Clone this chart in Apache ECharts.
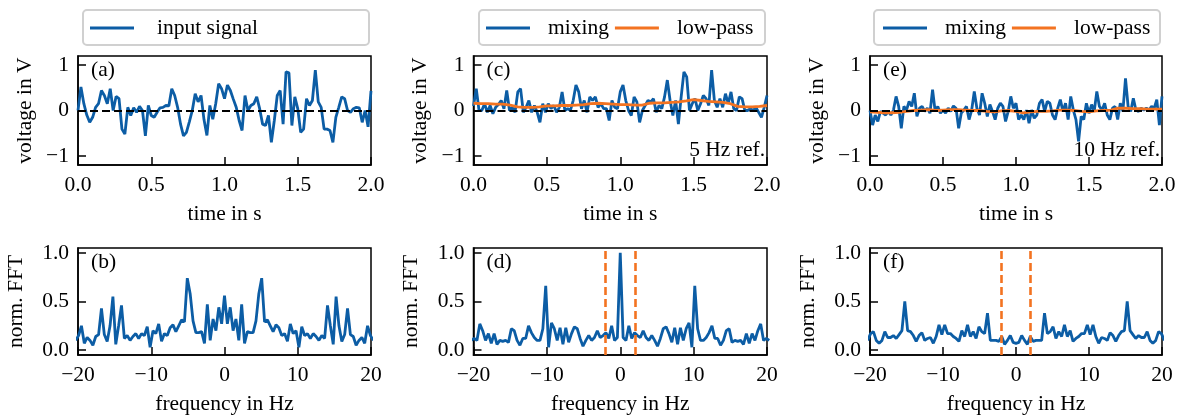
<!DOCTYPE html>
<html>
<head>
<meta charset="utf-8">
<script src="https://cdn.jsdelivr.net/npm/echarts@6/dist/echarts.min.js"></script>
<style>
  html, body { margin: 0; padding: 0; background: #fff; }
  #chart { width: 1185px; height: 416px; }
</style>
</head>
<body>
<div id="chart"></div>
<script>
const inputSignal = [0.0, 0.52, 0.15, -0.1, -0.26, -0.15, 0.07, 0.15, 0.44, 0.33,
  0.15, 0.48, 0.0, 0.31, 0.26, -0.41, -0.52, 0.07, -0.11, 0.06,
  -0.04, 0.09, 0.0, -0.56, 0.11, -0.11, -0.15, -0.04, 0.06, 0.07,
  0.11, 0.1, 0.48, 0.33, 0.07, -0.3, -0.56, -0.48, -0.25, 0.0,
  0.37, 0.19, 0.33, -0.2, -0.55, 0.11, -0.19, 0.15, 0.59, 0.48,
  0.26, 0.56, 0.44, 0.25, 0.07, -0.22, -0.44, 0.33, 0.0, 0.11,
  0.15, 0.30, 0.04, -0.3, -0.33, -0.11, -0.7, -0.22, 0.33, 0.44,
  -0.3, 0.85, 0.83, -0.33, 0.3, 0.04, -0.48, -0.41, 0.26, 0.11,
  0.22, 0.89, 0.19, 0.07, -0.41, -0.41, -0.44, -0.7, -0.15, 0.07,
  0.3, 0.26, 0.0, -0.04, 0.04, 0.07, 0.06, -0.26, 0.0, -0.36,
  0.43];
const mixing5 = [0.1, 0.48, 0.0, 0.0, 0.15, -0.04, 0.11, -0.07, 0.07, 0.13,
  0.22, 0.04, 0.44, 0.0, 0.07, -0.04, 0.41, 0.48, -0.04, 0.07,
  0.22, -0.04, 0.11, -0.04, -0.26, 0.15, -0.04, 0.15, 0.04, 0.11,
  -0.04, 0.07, 0.41, 0.0, 0.04, 0.0, 0.22, 0.56, 0.41, 0.04,
  0.22, -0.04, 0.3, 0.22, 0.3, 0.07, 0.15, 0.04, 0.04, -0.22,
  0.22, 0.07, 0.04, 0.41, 0.56, 0.22, 0.0, -0.11, 0.3, 0.19,
  -0.26, 0.0, 0.11, 0.22, 0.19, 0.26, -0.04, 0.11, 0.04, 0.3,
  0.67, 0.22, -0.11, 0.22, -0.3, 0.3, 0.85, 0.74, 0.0, 0.15,
  0.26, 0.0, 0.15, 0.33, 0.26, 0.11, 0.89, 0.22, 0.07, 0.26,
  0.07, 0.37, 0.15, 0.41, 0.04, 0.0, 0.3, 0.26, 0.0, 0.0,
  0.04, 0.0, 0.07, -0.04, -0.15, 0.07, 0.33];
const lowpass5 = [0.16, 0.15, 0.15, 0.14, 0.14, 0.12, 0.08, 0.07, 0.07, 0.08,
  0.1, 0.1, 0.11, 0.11, 0.12, 0.13, 0.15, 0.16, 0.15, 0.14,
  0.13, 0.13, 0.12, 0.12, 0.16, 0.17, 0.17, 0.18, 0.19, 0.21,
  0.24, 0.22, 0.2, 0.19, 0.18, 0.15, 0.09, 0.08, 0.08, 0.09,
  0.11];
const mixing10 = [0.0, -0.32, -0.1, -0.24, -0.02, -0.06, -0.1, -0.02, -0.1, 0.01,
  0.31, 0.09, -0.39, 0.09, 0.01, 0.2, 0.09, 0.38, -0.13, 0.05,
  0.09, -0.02, 0.05, -0.06, 0.46, -0.02, 0.09, -0.06, 0.01, -0.06,
  0.05, -0.02, 0.1, 0.05, -0.39, -0.06, 0.01, 0.09, -0.2, 0.01,
  0.42, 0.05, -0.1, 0.38, 0.16, -0.13, 0.13, -0.02, -0.2, 0.05,
  0.16, 0.09, -0.24, -0.02, 0.31, 0.05, 0.16, -0.2, -0.1, -0.2,
  0.01, -0.28, 0.01, -0.17, -0.1, 0.16, 0.24, -0.02, 0.2, 0.16,
  -0.1, -0.2, 0.05, 0.24, -0.02, 0.16, -0.2, 0.31, 0.01, -0.2,
  -0.68, -0.13, -0.2, 0.16, -0.06, 0.13, -0.02, 0.42, 0.09, 0.01,
  0.16, -0.1, -0.2, 0.05, 0.09, -0.2, 0.16, -0.02, 0.71, 0.09,
  -0.02, 0.27, 0.01, -0.02, 0.05, 0.01, 0.05, 0.01, 0.09, 0.05,
  0.24, -0.32, 0.31];
const lowpass10 = [-0.03, -0.04, -0.05, -0.05, -0.04, -0.02, 0.0, 0.01, 0.02, 0.0,
  0.01, 0.02, 0.02, 0.01, 0.0, 0.0, -0.02, -0.03, -0.01, 0.0,
  -0.02, -0.05, -0.03, -0.02, -0.02, -0.01, 0.01, 0.01, 0.0, -0.02,
  -0.03, -0.01, 0.0, 0.01, 0.05, 0.05, 0.04, 0.04, 0.03, 0.03,
  0.03];

// normalised spectra, bins k = -52..52 (df = 50/128 Hz)
const fftInput = [0.1, 0.15, 0.25, 0.07, 0.13, 0.1, 0.05, 0.14, 0.16, 0.43,
  0.16, 0.09, 0.25, 0.55, 0.06, 0.25, 0.46, 0.12, 0.15, 0.1,
  0.14, 0.17, 0.12, 0.17, 0.15, 0.24, 0.03, 0.2, 0.17, 0.27,
  0.09, 0.17, 0.15, 0.23, 0.26, 0.19, 0.25, 0.31, 0.29, 0.74,
  0.58, 0.3, 0.18, 0.18, 0.19, 0.07, 0.47, 0.1, 0.32, 0.2,
  0.44, 0.27,
  0.56,
  0.27, 0.44, 0.2, 0.32, 0.1, 0.47, 0.07, 0.19, 0.18, 0.18,
  0.3, 0.58, 0.74, 0.29, 0.31, 0.25, 0.19, 0.26, 0.23, 0.15,
  0.17, 0.09, 0.27, 0.17, 0.2, 0.03, 0.24, 0.15, 0.17, 0.12,
  0.17, 0.14, 0.1, 0.15, 0.12, 0.46, 0.25, 0.06, 0.55, 0.25,
  0.09, 0.16, 0.43, 0.16, 0.14, 0.05, 0.1, 0.13, 0.07, 0.25,
  0.15, 0.1];
const fftMixing5 = [0.1, 0.12, 0.1, 0.27, 0.2, 0.1, 0.17, 0.07, 0.17, 0.06,
  0.1, 0.09, 0.1, 0.08, 0.22, 0.2, 0.1, 0.05, 0.12, 0.12,
  0.25, 0.18, 0.13, 0.1, 0.1, 0.22, 0.66, 0.03, 0.28, 0.22,
  0.1, 0.23, 0.06, 0.23, 0.08, 0.17, 0.24, 0.22, 0.12, 0.04,
  0.1, 0.15, 0.1, 0.13, 0.2, 0.13, 0.15, 0.18, 0.12, 0.25,
  0.1, 0.13,
  1.0,
  0.13, 0.1, 0.25, 0.12, 0.18, 0.15, 0.13, 0.2, 0.13, 0.1,
  0.15, 0.1, 0.04, 0.12, 0.22, 0.24, 0.17, 0.08, 0.23, 0.06,
  0.23, 0.1, 0.22, 0.28, 0.03, 0.66, 0.22, 0.1, 0.1, 0.13,
  0.18, 0.25, 0.12, 0.12, 0.05, 0.1, 0.2, 0.22, 0.08, 0.1,
  0.09, 0.1, 0.06, 0.17, 0.07, 0.17, 0.1, 0.2, 0.27, 0.1,
  0.12, 0.1];
const fftMixing10 = [0.1, 0.17, 0.19, 0.1, 0.07, 0.1, 0.19, 0.13, 0.13, 0.15,
  0.12, 0.16, 0.2, 0.5, 0.2, 0.19, 0.15, 0.09, 0.15, 0.18,
  0.1, 0.12, 0.13, 0.07, 0.14, 0.26, 0.16, 0.26, 0.17, 0.17,
  0.14, 0.12, 0.09, 0.2, 0.14, 0.26, 0.14, 0.19, 0.12, 0.24,
  0.19, 0.17, 0.38, 0.1, 0.1, 0.1, 0.09, 0.14, 0.06, 0.1,
  0.15, 0.08,
  0.07,
  0.08, 0.15, 0.1, 0.06, 0.14, 0.09, 0.1, 0.1, 0.1, 0.38,
  0.17, 0.19, 0.24, 0.12, 0.19, 0.14, 0.26, 0.14, 0.2, 0.09,
  0.12, 0.14, 0.17, 0.17, 0.26, 0.16, 0.26, 0.14, 0.07, 0.13,
  0.12, 0.1, 0.18, 0.15, 0.09, 0.15, 0.19, 0.2, 0.5, 0.2,
  0.16, 0.12, 0.15, 0.13, 0.13, 0.19, 0.1, 0.07, 0.1, 0.19,
  0.17, 0.1];

const SAMPLE_RATE = 50;
const FFT_SIZE = 128;
const DURATION = 2;
const zeroLevel = [0];
const cutoff = [-2, 2];
const timeTicks = [0, 0.5, 1, 1.5, 2];
const voltTicks = [-1, 0, 1];
const freqTicks = [-20, -10, 0, 10, 20];
const fftTicks = [0, 0.5, 1];

const BLUE = '#0C5DA5';
const ORANGE = '#F37321';
const FONT = '"Liberation Serif", "DejaVu Serif", serif';
const FS = 21.5;

// pair traces with their sample positions
const timePairs = vals => vals.map((v, i) => [DURATION * i / (vals.length - 1), v]);
const freqPairs = vals => {
  const half = (vals.length - 1) / 2;
  return vals.map((v, i) => [(i - half) * SAMPLE_RATE / FFT_SIZE, v]);
};

const minus = s => String(s).replace('-', '\u2212');

const cols = [
  { left: 78, width: 293 },
  { left: 473.5, width: 293.5 },
  { left: 870, width: 292 }
];
const rows = [{ top: 56, height: 109 }, { top: 248, height: 109 }];

const grids = [];
const xAxes = [];
const yAxes = [];
cols.forEach(c => rows.forEach(r => {
  grids.push({ left: c.left, top: r.top, width: c.width, height: r.height,
    show: true, borderColor: '#000', borderWidth: 1.5, backgroundColor: 'transparent' });
}));

const tickStyle = { show: true, inside: true, length: 8, lineStyle: { color: '#000', width: 1.5 } };
const labelStyle = { color: '#000', fontFamily: FONT, fontSize: FS, margin: 9 };
const nameStyle = { color: '#000', fontFamily: FONT, fontSize: FS };

grids.forEach((g, gi) => {
  const top = gi % 2 === 0;
  xAxes.push({
    type: 'value', gridIndex: gi,
    min: top ? 0 : -20, max: top ? 2 : 20,
    name: top ? 'time in s' : 'frequency in Hz',
    nameLocation: 'middle', nameGap: 38, nameTextStyle: nameStyle,
    axisLine: { show: true, onZero: false, lineStyle: { color: '#000', width: 1.5 } },
    axisTick: Object.assign({ customValues: top ? timeTicks : freqTicks }, tickStyle),
    axisLabel: Object.assign({
      customValues: top ? timeTicks : freqTicks,
      formatter: v => top ? v.toFixed(1) : minus(v)
    }, labelStyle),
    splitLine: { show: false }
  });
  yAxes.push({
    type: 'value', gridIndex: gi,
    min: top ? -1.2 : -0.05, max: top ? 1.2 : 1.05,
    name: top ? 'voltage in V' : 'norm. FFT',
    nameLocation: 'middle', nameGap: top ? 42 : 51, nameTextStyle: nameStyle,
    axisLine: { show: true, onZero: false, lineStyle: { color: '#000', width: 1.5 } },
    axisTick: Object.assign({ customValues: top ? voltTicks : fftTicks }, tickStyle),
    axisLabel: Object.assign({
      customValues: top ? voltTicks : fftTicks,
      formatter: v => top ? minus(v) : v.toFixed(1)
    }, labelStyle),
    splitLine: { show: false }
  });
});

const zeroLine = {
  silent: true, symbol: 'none', animation: false,
  label: { show: false },
  lineStyle: { color: '#000', width: 2, type: [8, 4] },
  data: zeroLevel.map(v => ({ yAxis: v }))
};
const cutLine = {
  silent: true, symbol: 'none', animation: false,
  label: { show: false },
  lineStyle: { color: ORANGE, width: 2.6, type: [8, 4] },
  data: cutoff.map(v => ({ xAxis: v }))
};

const line = (name, idx, data, color, extra) => Object.assign({
  name, type: 'line', xAxisIndex: idx, yAxisIndex: idx, data,
  symbol: 'none', animation: false, clip: true,
  lineStyle: { color, width: 2.8 }, itemStyle: { color }
}, extra || {});

const series = [
  line('zero a', 0, [], '#000', { markLine: zeroLine }),
  line('input signal', 0, timePairs(inputSignal), BLUE),
  line('input signal', 1, freqPairs(fftInput), BLUE),
  line('zero c', 2, [], '#000', { markLine: zeroLine }),
  line('mixing', 2, timePairs(mixing5), BLUE),
  line('low-pass', 2, timePairs(lowpass5), ORANGE),
  line('mixing', 3, freqPairs(fftMixing5), BLUE, { markLine: cutLine }),
  line('zero e', 4, [], '#000', { markLine: zeroLine }),
  line('mixing', 4, timePairs(mixing10), BLUE),
  line('low-pass', 4, timePairs(lowpass10), ORANGE),
  line('mixing', 5, freqPairs(fftMixing10), BLUE, { markLine: cutLine })
];

const legendBase = {
  icon: 'rect', itemWidth: 44, itemHeight: 2.8, itemGap: 6, top: 17,
  selectedMode: false, padding: 0,
  textStyle: { color: '#000', fontFamily: FONT, fontSize: FS, padding: [0, 0, 0, 13] }
};
const legends = [
  Object.assign({}, legendBase, { left: 90, data: ['input signal'],
    textStyle: Object.assign({}, legendBase.textStyle, { padding: [0, 0, 0, 18] }) }),
  Object.assign({}, legendBase, { left: 486, data: ['mixing', 'low-pass'] }),
  Object.assign({}, legendBase, { left: 883, data: ['mixing', 'low-pass'] })
];

const boxes = [83, 479, 874].map(x => ({
  type: 'rect', x, y: 10, z: -1, silent: true,
  shape: { width: 286, height: 35, r: 4 },
  style: { fill: '#fff', stroke: '#d0d0d0', lineWidth: 2 }
}));
const panelText = ['(a)', '(b)', '(c)', '(d)', '(e)', '(f)'].map((t, i) => ({
  type: 'text', silent: true,
  x: cols[Math.floor(i / 2)].left + 13, y: rows[i % 2].top + 3,
  style: { text: t, font: FS + 'px ' + FONT, fill: '#000', align: 'left', verticalAlign: 'top' }
}));
const refText = [['5 Hz ref.', 1], ['10 Hz ref.', 2]].map(([t, c]) => ({
  type: 'text', silent: true,
  x: cols[c].left + cols[c].width - 2, y: 139,
  style: { text: t, font: FS + 'px ' + FONT, fill: '#000', align: 'right', verticalAlign: 'top' }
}));

const chart = echarts.init(document.getElementById('chart'), null, { renderer: 'canvas' });
chart.setOption({
  backgroundColor: '#fff',
  animation: false,
  grid: grids,
  xAxis: xAxes,
  yAxis: yAxes,
  legend: legends,
  graphic: boxes.concat(panelText, refText),
  series
});
</script>
</body>
</html>
